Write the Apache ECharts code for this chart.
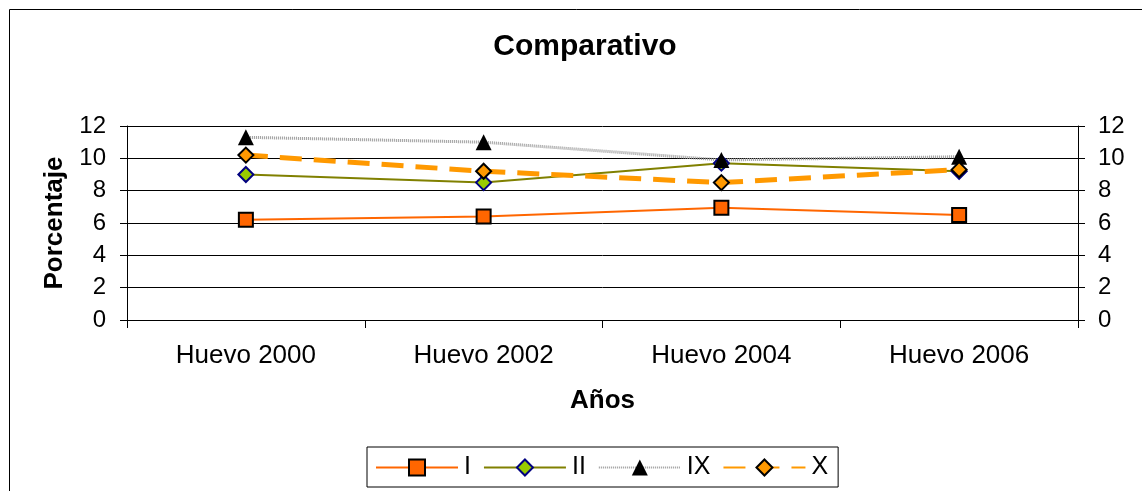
<!DOCTYPE html>
<html><head><meta charset="utf-8">
<script src="https://cdn.jsdelivr.net/npm/echarts@6/dist/echarts.min.js"></script>
<style>html,body{margin:0;padding:0;background:#fff;}#c{width:1142px;height:491px;}</style>
</head><body><div id="c"></div>
<script>
const categories = ['Huevo 2000', 'Huevo 2002', 'Huevo 2004', 'Huevo 2006'];
const serieI = [6.2, 6.4, 6.95, 6.5];
const serieII = [9.0, 8.5, 9.7, 9.2];
const serieIX = [11.3, 11.0, 9.9, 10.1];
const serieX = [10.2, 9.2, 8.5, 9.3];
const seriesNames = ['I', 'II', 'IX', 'X'];

const font = '"Liberation Sans", Arial, sans-serif';
const chart = echarts.init(document.getElementById('c'));
const yAxisBase = {
  type: 'value', min: 0, max: 12, interval: 2,
  axisLine: {show: true, lineStyle: {color: '#000', width: 1}},
  axisTick: {show: true, length: 7, lineStyle: {color: '#000'}},
  axisLabel: {color: '#000', fontSize: 24, fontFamily: font, margin: 21}
};
chart.setOption({
  animation: false,
  backgroundColor: '#fff',
  title: {text: 'Comparativo', left: 580, textAlign: 'center', top: 27,
    textStyle: {fontSize: 30, fontWeight: 'bold', fontFamily: font, color: '#000'}},
  graphic: [{type: 'rect', shape: {x: 9.5, y: 9.5, width: 1140, height: 490},
    style: {fill: 'none', stroke: '#000', lineWidth: 1}, silent: true, z: -1}],
  grid: {left: 127, right: 64, top: 126, bottom: 171},
  legend: {
    left: 367, top: 447, orient: 'horizontal',
    data: seriesNames,
    itemWidth: 82, itemHeight: 20, itemGap: 12,
    borderColor: '#000', borderWidth: 1, padding: [8, 10, 7, 8],
    textStyle: {fontSize: 25, fontFamily: font, color: '#000', padding: [0, 0, 0, 1]}
  },
  xAxis: {
    type: 'category', data: categories, boundaryGap: true,
    name: 'Años', nameLocation: 'middle', nameGap: 68,
    nameTextStyle: {fontSize: 26, fontWeight: 'bold', fontFamily: font, color: '#000'},
    axisLine: {lineStyle: {color: '#000', width: 1}},
    axisTick: {show: true, length: 8, alignWithLabel: false, lineStyle: {color: '#000'}},
    axisLabel: {color: '#000', fontSize: 26, fontFamily: font, margin: 23}
  },
  yAxis: [
    Object.assign({}, yAxisBase, {position: 'left',
      name: 'Porcentaje', nameLocation: 'middle', nameGap: 59,
      nameTextStyle: {fontSize: 26, fontWeight: 'bold', fontFamily: font, color: '#000'},
      splitLine: {show: true, lineStyle: {color: '#000', width: 1}}}),
    Object.assign({}, yAxisBase, {position: 'right', splitLine: {show: false},
      axisLabel: {color: '#000', fontSize: 24, fontFamily: font, margin: 20}})
  ],
  series: [
    {name: 'I', type: 'line', data: serieI, symbol: 'rect', symbolSize: 14,
      lineStyle: {color: '#FF6600', width: 2},
      itemStyle: {color: '#FF6600', borderColor: '#000', borderWidth: 2}},
    {name: 'II', type: 'line', data: serieII, symbol: 'diamond', symbolSize: 15,
      lineStyle: {color: '#808000', width: 2},
      itemStyle: {color: '#99CC00', borderColor: '#000080', borderWidth: 2}},
    {name: 'IX', type: 'line', data: serieIX, symbol: 'triangle', symbolSize: 16,
      lineStyle: {color: '#999', width: 3, type: [1, 1]},
      itemStyle: {color: '#000', borderColor: '#000', borderWidth: 0}},
    {name: 'X', type: 'line', data: serieX, symbol: 'diamond', symbolSize: 15,
      lineStyle: {color: '#FF9900', width: 5, type: [22, 12]},
      itemStyle: {color: '#FF9900', borderColor: '#000', borderWidth: 2}}
  ]
});
</script></body></html>
